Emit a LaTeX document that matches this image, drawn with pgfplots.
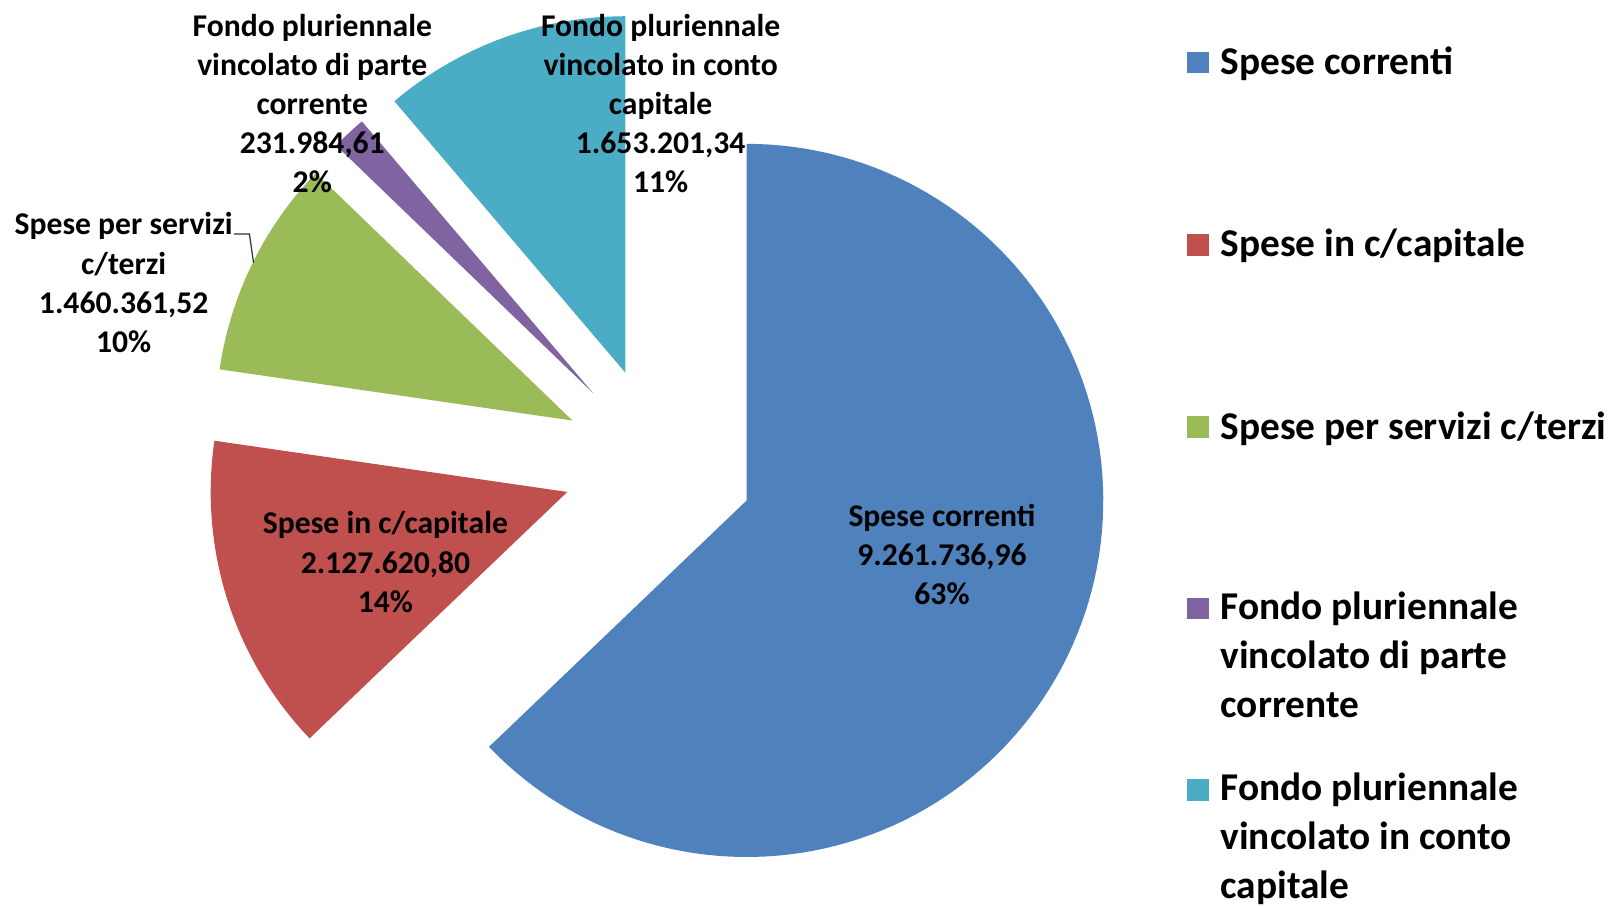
\documentclass[border=0pt]{standalone}
\usepackage{pgfplots}
\pgfplotsset{compat=1.18}
\usepackage{fontspec}
\setmainfont{Carlito}
\definecolor{cA}{HTML}{4F81BD}
\definecolor{cB}{HTML}{C0504D}
\definecolor{cC}{HTML}{9BBB59}
\definecolor{cD}{HTML}{8064A2}
\definecolor{cE}{HTML}{4BACC6}
% values
\def\vA{9261736.96}
\def\vB{2127620.80}
\def\vC{1460361.52}
\def\vD{231984.61}
\def\vE{1653201.34}
\edef\tot{\fpeval{\vA+\vB+\vC+\vD+\vE}}
\def\sZ{90}
\edef\sA{\fpeval{round(\sZ-360*\vA/\tot,4)}}
\edef\sB{\fpeval{round(\sA-360*\vB/\tot,4)}}
\edef\sC{\fpeval{round(\sB-360*\vC/\tot,4)}}
\edef\sD{\fpeval{round(\sC-360*\vD/\tot,4)}}
\edef\sE{\fpeval{round(\sD-360*\vE/\tot,4)}}
\def\Cx{639}\def\Cy{449}\def\Ex{93}\def\R{346}
\edef\xA{\fpeval{round(\Cx+\Ex*cosd((\sZ+\sA)/2),3)}}\edef\yA{\fpeval{round(\Cy-\Ex*sind((\sZ+\sA)/2),3)}}
\edef\xB{\fpeval{round(\Cx+\Ex*cosd((\sA+\sB)/2),3)}}\edef\yB{\fpeval{round(\Cy-\Ex*sind((\sA+\sB)/2),3)}}
\edef\xC{\fpeval{round(\Cx+\Ex*cosd((\sB+\sC)/2),3)}}\edef\yC{\fpeval{round(\Cy-\Ex*sind((\sB+\sC)/2),3)}}
\edef\xD{\fpeval{round(\Cx+\Ex*cosd((\sC+\sD)/2),3)}}\edef\yD{\fpeval{round(\Cy-\Ex*sind((\sC+\sD)/2),3)}}
\edef\xE{\fpeval{round(\Cx+\Ex*cosd((\sD+\sE)/2),3)}}\edef\yE{\fpeval{round(\Cy-\Ex*sind((\sD+\sE)/2),3)}}
\newcommand\lbl{\fontsize{15.35}{19}\selectfont\bfseries}
\newcommand\leg{\fontsize{19.1}{23.75}\selectfont\bfseries}
\begin{document}
\begin{tikzpicture}
\begin{axis}[hide axis, scale only axis, width=784pt, height=439.5pt,
  xmin=0, xmax=1568, ymin=0, ymax=879, y dir=reverse, clip=false, enlargelimits=false]
\addplot[draw=none, fill=cA, domain=\sA:\sZ, samples=120, variable=\t] ({\xA+\R*cos(\t)},{\yA-\R*sin(\t)}) -- (axis cs:\xA,\yA) -- cycle;
\addplot[draw=none, fill=cB, domain=\sB:\sA, samples=40, variable=\t] ({\xB+\R*cos(\t)},{\yB-\R*sin(\t)}) -- (axis cs:\xB,\yB) -- cycle;
\addplot[draw=none, fill=cC, domain=\sC:\sB, samples=30, variable=\t] ({\xC+\R*cos(\t)},{\yC-\R*sin(\t)}) -- (axis cs:\xC,\yC) -- cycle;
\addplot[draw=none, fill=cD, domain=\sD:\sC, samples=10, variable=\t] ({\xD+\R*cos(\t)},{\yD-\R*sin(\t)}) -- (axis cs:\xD,\yD) -- cycle;
\addplot[draw=none, fill=cE, domain=\sE:\sD, samples=30, variable=\t] ({\xE+\R*cos(\t)},{\yE-\R*sin(\t)}) -- (axis cs:\xE,\yE) -- cycle;
% data labels
\node[anchor=base, font=\lbl, inner sep=0pt] at (axis cs:914,511) {\begin{tabular}[t]{@{}c@{}}Spese correnti\\9.261.736,96\\63\%\end{tabular}};
\node[anchor=base, font=\lbl, inner sep=0pt] at (axis cs:374,518) {\begin{tabular}[t]{@{}c@{}}Spese in c/capitale\\2.127.620,80\\14\%\end{tabular}};
\node[anchor=base, font=\lbl, inner sep=0pt] at (axis cs:120,228) {\begin{tabular}[t]{@{}c@{}}Spese per servizi\\c/terzi\\1.460.361,52\\10\%\end{tabular}};
\node[anchor=base, font=\lbl, inner sep=0pt] at (axis cs:303,35) {\begin{tabular}[t]{@{}c@{}}Fondo pluriennale\\vincolato di parte\\corrente\\231.984,61\\2\%\end{tabular}};
\node[anchor=base, font=\lbl, inner sep=0pt] at (axis cs:641,35) {\begin{tabular}[t]{@{}c@{}}Fondo pluriennale\\vincolato in conto\\capitale\\1.653.201,34\\11\%\end{tabular}};
\draw[black!80, line width=0.6pt] (axis cs:227,227) -- (axis cs:242,227) -- (axis cs:246,255);
% legend
\fill[cA] (axis cs:1152,50) rectangle (axis cs:1173,71);
\node[anchor=base west, font=\leg, inner sep=0pt] at (axis cs:1184,72) {\begin{tabular}[t]{@{}l@{}}Spese correnti\end{tabular}};
\fill[cB] (axis cs:1152,227) rectangle (axis cs:1173,248);
\node[anchor=base west, font=\leg, inner sep=0pt] at (axis cs:1184,249) {\begin{tabular}[t]{@{}l@{}}Spese in c/capitale\end{tabular}};
\fill[cC] (axis cs:1152,404) rectangle (axis cs:1173,425);
\node[anchor=base west, font=\leg, inner sep=0pt] at (axis cs:1184,426) {\begin{tabular}[t]{@{}l@{}}Spese per servizi c/terzi\end{tabular}};
\fill[cD] (axis cs:1152,580) rectangle (axis cs:1173,601);
\node[anchor=base west, font=\leg, inner sep=0pt] at (axis cs:1184,601) {\begin{tabular}[t]{@{}l@{}}Fondo pluriennale\\vincolato di parte\\corrente\end{tabular}};
\fill[cE] (axis cs:1152,756) rectangle (axis cs:1173,777);
\node[anchor=base west, font=\leg, inner sep=0pt] at (axis cs:1184,777) {\begin{tabular}[t]{@{}l@{}}Fondo pluriennale\\vincolato in conto\\capitale\end{tabular}};
\end{axis}
\pgfresetboundingbox
\path (current axis.south west) rectangle (current axis.north east);
\end{tikzpicture}
\end{document}
